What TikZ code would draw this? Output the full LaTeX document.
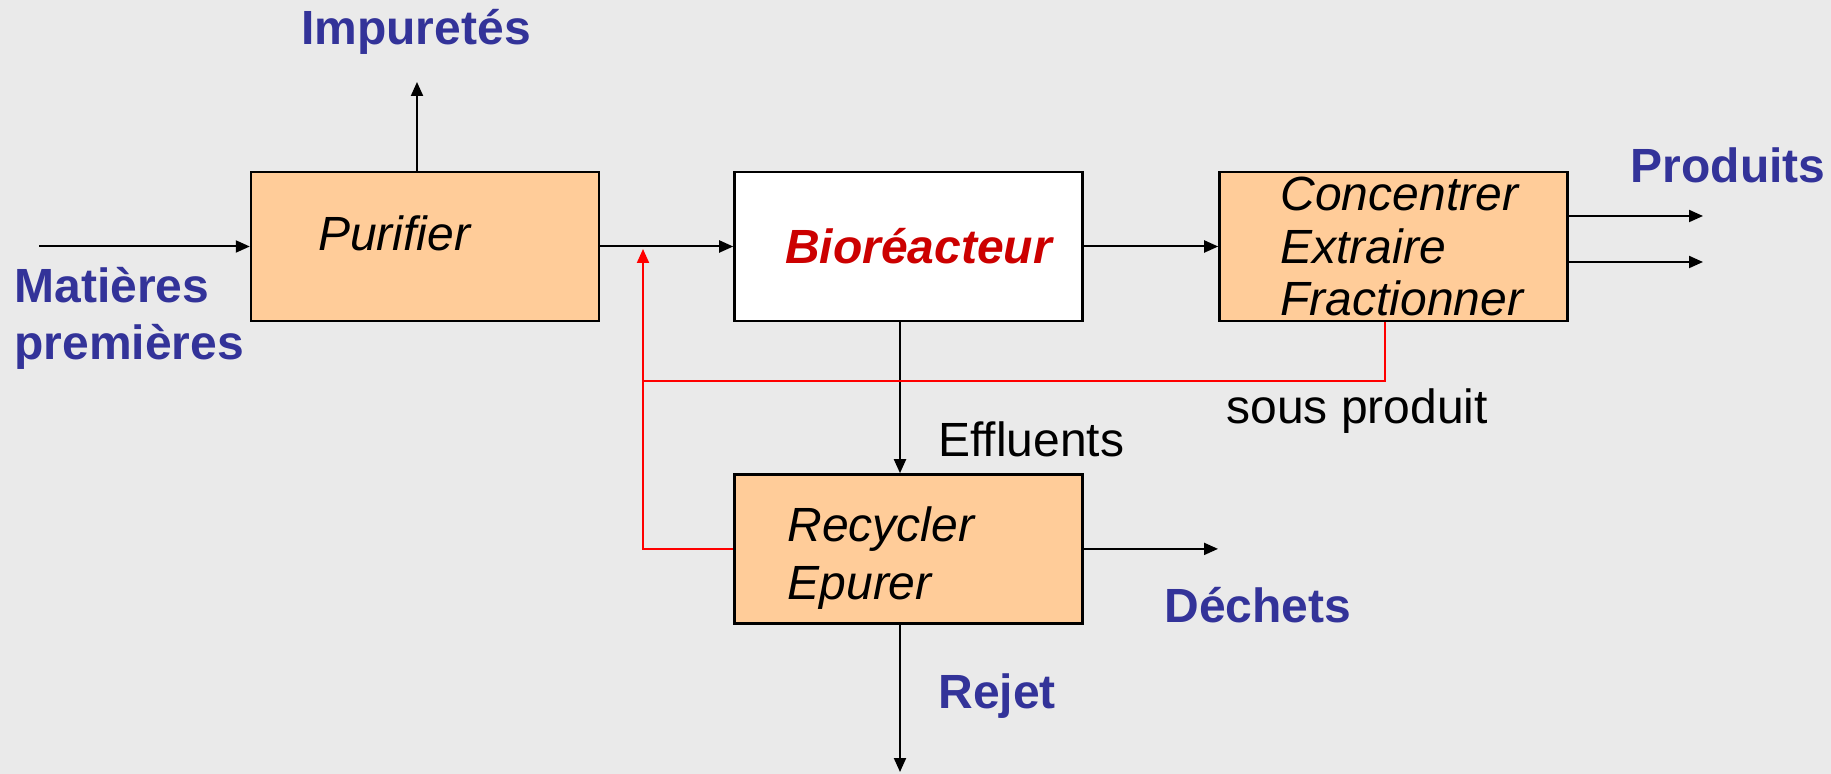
\documentclass[tikz,border=0pt]{standalone}
\usepackage{fontspec}
\setmainfont{Liberation Sans}
\usepackage{xcolor}
\usetikzlibrary{positioning,arrows.meta}
\definecolor{pagebg}{HTML}{EAEAEA}
\definecolor{stepfill}{HTML}{FFCC99}
\definecolor{flowblue}{HTML}{333399}
\definecolor{biored}{HTML}{CC0000}
\definecolor{recred}{HTML}{FF0000}

\begin{document}
\begin{tikzpicture}[x=0.5pt,y=-0.5pt,node distance=66.5pt,
    font=\fontsize{24}{28}\selectfont]
  \tikzstyle{stepbox}=[draw=black,line width=1.2pt,fill=stepfill,
    minimum width=174pt,minimum height=74.5pt,inner sep=0pt]
  \tikzstyle{steptext}=[font=\fontsize{24}{26.3}\selectfont\itshape,
    align=left,inner sep=0pt]
  \tikzstyle{outlabel}=[text=flowblue,font=\fontsize{24}{28.5}\selectfont\bfseries,
    inner sep=0pt,align=left]
  \tikzstyle{flowline}=[-{Triangle[length=7pt,width=6pt]},line width=1pt]
  \tikzstyle{recline}=[recred,line width=1pt]
  \fill[pagebg] (0,0) rectangle (1831,774);
  \useasboundingbox (0,0) rectangle (1831,774);

  % process steps
  \node[stepbox] (purif) at (425,246.5) {};
  \node[stepbox,fill=white,right=of purif,text=biored,
    font=\fontsize{24}{28}\selectfont\bfseries\itshape] (bio) {\hspace*{10pt}Bioréacteur};
  \node[stepbox,right=67.3pt of bio] (conc) {};
  \node[stepbox,below=75.5pt of bio] (recyc) {};
  \node[steptext,right=34pt of purif.west,yshift=6.5pt] (purif-t) {Purifier};
  \node[steptext,right=31pt of conc.west] (conc-t) {Concentrer\\Extraire\\Fractionner};
  \node[steptext,font=\fontsize{24}{29}\selectfont\itshape,
    right=27pt of recyc.west,yshift=-4.5pt] (recyc-t) {Recycler\\Epurer};

  % inputs and outputs
  \node[outlabel] (impur) at (416,31.5) {Impuretés};
  \node[outlabel,anchor=west] (matieres) at (14,318.5) {Matières\\premières};
  \node[outlabel] (produits) at (1728,165) {Produits};
  \node[outlabel,anchor=west] (dechets) at (1164,605) {Déchets};
  \node[outlabel,anchor=west] (rejet) at (938,696) {Rejet};
  \node[anchor=west,inner sep=0pt] (effl) at (938,439) {Effluents};
  \node[anchor=west,inner sep=0pt] (sousprod) at (1226,411) {sous produit};

  \coordinate (feed) at (39,246.5);
  \coordinate (impur-out) at (417,82);
  \coordinate (prod-a) at (1703,216);
  \coordinate (prod-b) at (1703,262);
  \coordinate (waste) at (1218,548.5);
  \coordinate (reject) at (900,772);
  \coordinate (merge) at (643,249);
  \coordinate (byprod) at (1385,381);

  \draw[flowline] (feed) -- (purif.west);
  \draw[flowline] (purif.north-|impur-out) -- (impur-out);
  \draw[flowline] (purif) -- (bio);
  \draw[flowline] (bio) -- (conc);
  \draw[flowline] (conc.east|-prod-a) -- (prod-a);
  \draw[flowline] (conc.east|-prod-b) -- (prod-b);
  \draw[flowline] (bio.south-|reject) -- (recyc.north-|reject);
  \draw[flowline] (recyc.east) -- (recyc.east-|waste);
  \draw[flowline] (recyc.south-|reject) -- (reject);

  % recycling loops
  \draw[recline,-{Triangle[length=7pt,width=6pt]}] (recyc.west) -| (merge);
  \draw[recline] (conc.south-|byprod) |- (merge|-byprod);
\end{tikzpicture}
\end{document}
